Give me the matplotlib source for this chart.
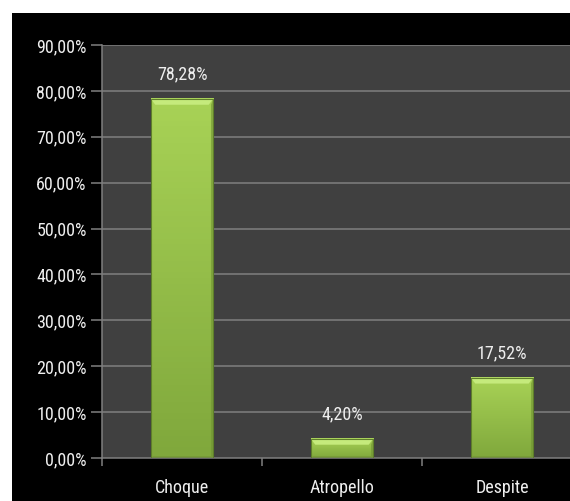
import numpy as np
import matplotlib.pyplot as plt
from matplotlib.patches import Rectangle, Polygon
from matplotlib.colors import LinearSegmentedColormap

categories = ["Choque", "Atropello", "Despite"]
values = [78.28, 4.20, 17.52]
value_labels = ["78,28%", "4,20%", "17,52%"]
yticks = [0, 10, 20, 30, 40, 50, 60, 70, 80, 90]
ytick_labels = ["0,00%", "10,00%", "20,00%", "30,00%", "40,00%",
                "50,00%", "60,00%", "70,00%", "80,00%", "90,00%"]

plt.rcParams['font.family'] = ['Roboto Condensed', 'DejaVu Sans']

fig = plt.figure(figsize=(5.70, 5.01), dpi=100)
fig.patch.set_facecolor("white")
# black chart area (white margin at top/left)
bg = Rectangle((12 / 570, 0), 1, (501 - 13) / 501,
               transform=fig.transFigure, facecolor="black",
               edgecolor="none", zorder=-10)
fig.add_artist(bg)

ax = fig.add_axes([102 / 570, 43 / 501, 480 / 570, 413 / 501])
ax.set_zorder(1)
ax.set_facecolor("#404040")
ax.set_xlim(0, 3)
ax.set_ylim(0, 90)

for y in yticks[1:]:
    ax.axhline(y, color="#7f7f7f", lw=1.1, zorder=1)

grad = LinearSegmentedColormap.from_list("g", ["#80a83c", "#a8d256"])
bw = 0.39
for i, v in enumerate(values):
    x0 = i + 0.5 - bw / 2
    g = np.linspace(0, 1, 64).reshape(-1, 1)
    ax.imshow(g, cmap=grad, origin="lower", aspect="auto",
              extent=(x0, x0 + bw, 0, v), zorder=2)
    # bevel: light top, darker right side and bottom
    b = 1.3
    bx = 0.028
    ax.add_patch(Polygon([(x0, v), (x0 + bw, v), (x0 + bw - bx, v - b), (x0 + bx, v - b)],
                         closed=True, facecolor="#c5ea7c", edgecolor="none", zorder=3))
    ax.add_patch(Polygon([(x0 + bw, v), (x0 + bw, 0), (x0 + bw - bx * 0.5, 0.4), (x0 + bw - bx * 0.5, v - b)],
                         closed=True, facecolor="#6f9232", edgecolor="none", alpha=0.6, zorder=3))
    ax.add_patch(Polygon([(x0, 0), (x0 + bw, 0), (x0 + bw - bx * 0.5, 0.4), (x0 + bx * 0.5, 0.4)],
                         closed=True, facecolor="#6f9232", edgecolor="none", alpha=0.6, zorder=3))
    ax.add_patch(Rectangle((x0, 0), bw, v, facecolor="none",
                           edgecolor="#5e7e2a", lw=0.8, zorder=4))
    ax.annotate(value_labels[i], (i + 0.5, v), xytext=(0, 11),
                textcoords="offset points", ha="center", va="bottom",
                color="#eeeeee", fontsize=13)

ax.set_yticks(yticks)
ax.set_yticklabels(ytick_labels)
ax.set_xticks([0.5, 1.5, 2.5])
ax.set_xticklabels(categories)
ax.set_xticks([0, 1, 2, 3], minor=True)
ax.tick_params(axis="y", colors="#7f7f7f", length=8, width=1.1, labelcolor="#eeeeee",
               labelsize=13, pad=3)
ax.tick_params(axis="x", which="major", length=0, labelcolor="#eeeeee",
               labelsize=13, pad=15)
ax.tick_params(axis="x", which="minor", length=6, width=1.1, color="#7f7f7f")

for s in ["top", "right"]:
    ax.spines[s].set_visible(False)
ax.spines["left"].set_color("#7f7f7f")
ax.spines["bottom"].set_color("#7f7f7f")
ax.spines["left"].set_linewidth(1.1)
ax.spines["bottom"].set_linewidth(1.1)

fig.savefig("out.png", dpi=100)
